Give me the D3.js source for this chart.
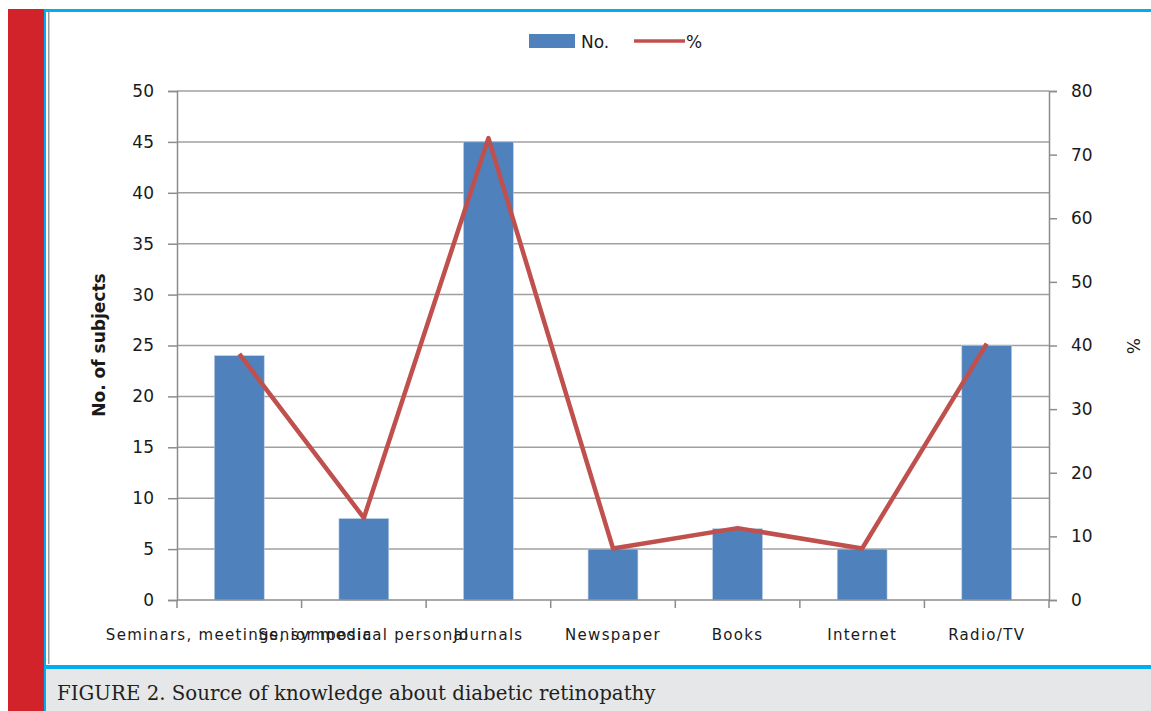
<!DOCTYPE html>
<html><head><meta charset="utf-8">
<script src="https://cdn.jsdelivr.net/npm/d3@7"></script>
<style>body{margin:0;background:#fff}svg{display:block}</style>
</head><body>
<svg id="c" width="1151" height="711"></svg>
<script>
const categories = ["Seminars, meetings, symposia","Senior medical personal","Journals","Newspaper","Books","Internet","Radio/TV"];
const counts = [24, 8, 45, 5, 7, 5, 25];
const percents = [38.7, 12.9, 72.6, 8.1, 11.3, 8.1, 40.3];
const leftTicks = [0,5,10,15,20,25,30,35,40,45,50];
const rightTicks = [0,10,20,30,40,50,60,70,80];
const caption = "FIGURE 2. Source of knowledge about diabetic retinopathy";

const svg = d3.select("#c");
// frame
svg.append("rect").attr("x",8).attr("y",9).attr("width",36).attr("height",702).attr("fill","#d2232a");
svg.append("rect").attr("x",44).attr("y",9).attr("width",1107).attr("height",3).attr("fill","#00aeef");
svg.append("rect").attr("x",44).attr("y",9).attr("width",2).attr("height",702).attr("fill","#00aeef");
svg.append("rect").attr("x",48).attr("y",12).attr("width",1.5).attr("height",652).attr("fill","#9a9a9a");
svg.append("rect").attr("x",46).attr("y",669).attr("width",1105).attr("height",42).attr("fill","#e6e7e8");
svg.append("rect").attr("x",44).attr("y",665).attr("width",1107).attr("height",4).attr("fill","#00aeef");
svg.append("text").attr("x",57).attr("y",700).attr("font-family","DejaVu Serif").attr("font-size",19.8)
  .attr("fill","#231f20").text(caption);

const L = 177, R = 1049, T = 91, B = 600;
const x = d3.scaleBand().domain(categories).range([L,R]).paddingInner(0.6).paddingOuter(0.3);
const xb = d3.scaleBand().domain(categories).range([L,R]);
const y = d3.scaleLinear().domain([0,50]).range([B,T]);
const y2 = d3.scaleLinear().domain([0,80]).range([B,T]);
const font = "DejaVu Sans";
const axisCol = "#8c8c8c";

// gridlines
svg.append("g").selectAll("line").data(leftTicks.filter(d=>d>0)).join("line")
  .attr("x1",L).attr("x2",R).attr("y1",d=>y(d)).attr("y2",d=>y(d))
  .attr("stroke","#a0a0a0").attr("stroke-width",1.5);

// bars
svg.append("g").selectAll("rect").data(counts).join("rect")
  .attr("x",(d,i)=>x(categories[i])).attr("width",x.bandwidth())
  .attr("y",d=>y(d)).attr("height",d=>B-y(d))
  .attr("fill","#4f81bd").attr("stroke","#b9cde5").attr("stroke-width",0.6);

// left axis
const gl = svg.append("g").attr("transform",`translate(${L},0)`)
  .call(d3.axisLeft(y).tickValues(leftTicks).tickSize(9).tickPadding(14));
gl.select(".domain").attr("stroke",axisCol).attr("stroke-width",1.5);
gl.selectAll(".tick line").attr("stroke",axisCol).attr("stroke-width",1.5);
gl.selectAll("text").attr("font-family",font).attr("font-size",17).attr("fill","#1a1a1a");

// right axis
const gr = svg.append("g").attr("transform",`translate(${R},0)`)
  .call(d3.axisRight(y2).tickValues(rightTicks).tickSize(8).tickPadding(14));
gr.select(".domain").attr("stroke",axisCol).attr("stroke-width",1.5);
gr.selectAll(".tick line").attr("stroke",axisCol).attr("stroke-width",1.5);
gr.selectAll("text").attr("font-family",font).attr("font-size",17).attr("fill","#1a1a1a");

// x axis
svg.append("line").attr("x1",L).attr("x2",R).attr("y1",B).attr("y2",B).attr("stroke",axisCol).attr("stroke-width",1.5);
svg.append("g").selectAll("line").data(categories.concat(["__end"])).join("line")
  .attr("x1",(d,i)=>i<categories.length?xb(d):R).attr("x2",(d,i)=>i<categories.length?xb(d):R)
  .attr("y1",B).attr("y2",B+8).attr("stroke",axisCol).attr("stroke-width",1.5);
svg.append("g").selectAll("text").data(categories).join("text")
  .attr("x",d=>xb(d)+xb.bandwidth()/2).attr("y",640).attr("text-anchor","middle")
  .attr("font-family",font).attr("font-size",15).attr("letter-spacing",1.3).attr("fill","#1a1a1a").text(d=>d);

// line
svg.append("path").datum(percents)
  .attr("d",d3.line().x((d,i)=>xb(categories[i])+xb.bandwidth()/2).y(d=>y2(d)))
  .attr("fill","none").attr("stroke","#c0504d").attr("stroke-width",4.5).attr("stroke-linejoin","round");

// axis titles
svg.append("text").attr("transform","translate(105,345) rotate(-90)").attr("text-anchor","middle")
  .attr("font-family",font).attr("font-weight","bold").attr("font-size",17).attr("fill","#1a1a1a").text("No. of subjects");
svg.append("text").attr("transform","translate(1127,346) rotate(90)").attr("text-anchor","middle")
  .attr("font-family",font).attr("font-size",17).attr("fill","#1a1a1a").text("%");

// legend
svg.append("rect").attr("x",529).attr("y",34).attr("width",46).attr("height",14).attr("fill","#4f81bd");
svg.append("text").attr("x",581).attr("y",48).attr("font-family",font).attr("font-size",17).attr("fill","#1a1a1a").text("No.");
svg.append("line").attr("x1",634).attr("x2",685).attr("y1",41).attr("y2",41).attr("stroke","#c0504d").attr("stroke-width",3.5);
svg.append("text").attr("x",686).attr("y",48).attr("font-family",font).attr("font-size",17).attr("fill","#1a1a1a").text("%");
</script>
</body></html>
